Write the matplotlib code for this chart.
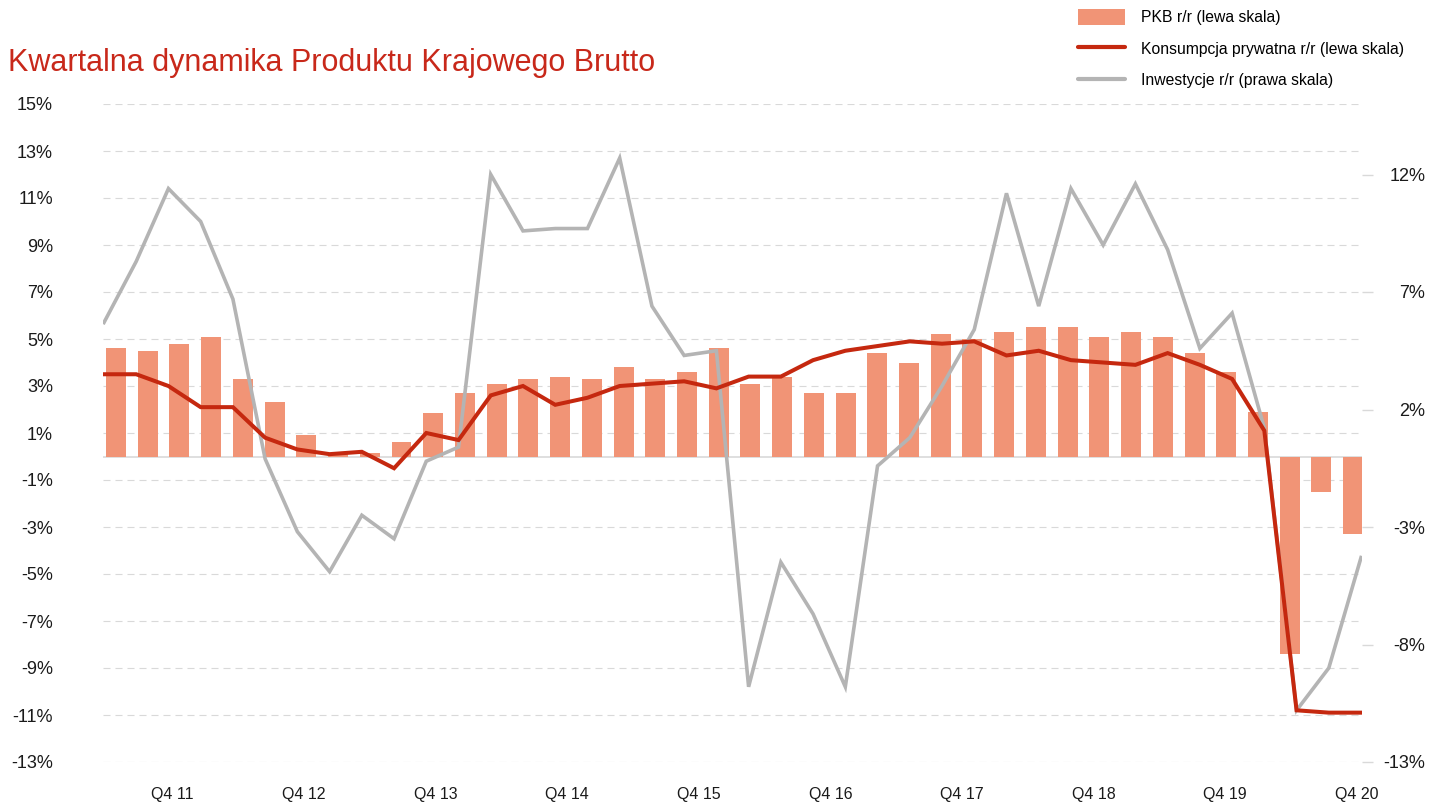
#!/usr/bin/env python3
"""Kwartalna dynamika PKB - bars (PKB) plus consumption and investment lines."""

import numpy as np
import matplotlib
matplotlib.use("Agg")
import matplotlib.pyplot as plt
from matplotlib.patches import Patch
from matplotlib.lines import Line2D

# Q1 2011 .. Q4 2020, y/y in %
pkb = [4.6, 4.5, 4.8, 5.1, 3.3, 2.3, 0.9, 0.15, 0.14, 0.6,
       1.85, 2.7, 3.1, 3.3, 3.4, 3.3, 3.8, 3.3, 3.6, 4.6,
       3.1, 3.4, 2.7, 2.7, 4.4, 4.0, 5.2, 5.0, 5.3, 5.5,
       5.5, 5.1, 5.3, 5.1, 4.4, 3.6, 1.9, -8.4, -1.5, -3.3]
konsumpcja = [3.5, 3.5, 3.0, 2.1, 2.1, 0.8, 0.3, 0.1, 0.2, -0.5,
              1.0, 0.7, 2.6, 3.0, 2.2, 2.5, 3.0, 3.1, 3.2, 2.9,
              3.4, 3.4, 4.1, 4.5, 4.7, 4.9, 4.8, 4.9, 4.3, 4.5,
              4.1, 4.0, 3.9, 4.4, 3.9, 3.3, 1.1, -10.8, -10.9, -10.9]
inwestycje = [5.7, 8.3, 11.4, 10.0, 6.7, -0.1, -3.2, -4.9, -2.5, -3.5,
              -0.2, 0.4, 12.0, 9.6, 9.7, 9.7, 12.7, 6.4, 4.3, 4.5,
              -9.8, -4.5, -6.7, -9.8, -0.4, 0.8, 3.0, 5.4, 11.2, 6.4,
              11.4, 9.0, 11.6, 8.8, 4.6, 6.1, 1.2, -10.8, -9.0, -4.3]
x_labels = ["Q4 11", "Q4 12", "Q4 13", "Q4 14", "Q4 15",
            "Q4 16", "Q4 17", "Q4 18", "Q4 19", "Q4 20"]
left_ticks = list(range(-13, 16, 2))
right_ticks = [-13, -8, -3, 2, 7, 12]

BAR = "#f19476"
RED = "#c5280f"
GREY = "#b4b4b4"
GRID = "#d9d9d9"
TXT = "#1a1a1a"

plt.rcParams["font.family"] = ["Liberation Sans", "DejaVu Sans"]

W, H = 1446, 802
fig = plt.figure(figsize=(W / 100, H / 100), dpi=100)
ax = fig.add_axes([103 / W, 40 / H, (1362 - 103) / W, (762 - 104) / H])

# bars on their own category scale
n = len(pkb)
xb = np.arange(n)
ax.bar(xb, pkb, width=0.63, color=BAR, zorder=2)
ax.set_xlim(-0.41, n - 1 + 0.28)
ax.set_ylim(-13, 15)
ax.set_yticks(left_ticks)
ax.set_yticklabels([f"{t}%" for t in left_ticks], fontsize=13, color=TXT)
ax.tick_params(axis="y", length=0, pad=36)
for t in left_ticks:
    ax.axhline(t, color=GRID, lw=0.8, ls=(0, (6.3, 4.5)), zorder=0)
ax.axhline(0, color=GRID, lw=1.2, zorder=1)

label_pos = np.arange(len(x_labels)) * 4.15 + 1.77
ax.set_xticks(label_pos)
ax.set_xticklabels(x_labels, fontsize=11.5, color=TXT)
ax.tick_params(axis="x", length=0, pad=18)
for s in ax.spines.values():
    s.set_visible(False)

# lines span the full width
axl = ax.twiny()
axl.plot(xb, inwestycje, color=GREY, lw=2.6, zorder=3, solid_joinstyle="miter")
axl.plot(xb, konsumpcja, color=RED, lw=2.9, zorder=4, solid_joinstyle="miter")
axl.set_xlim(-0.03, n - 1 + 0.03)
axl.set_xticks([])
for s in axl.spines.values():
    s.set_visible(False)

# right scale (same numbers, other ticks)
axr = ax.twinx()
axr.set_ylim(-13, 15)
axr.set_yticks(right_ticks)
axr.set_yticklabels([f"{t}%" for t in right_ticks], fontsize=13, color=TXT,
                    ha="right")
axr.tick_params(axis="y", length=8, width=1, color=GRID, pad=37.5)
for s in axr.spines.values():
    s.set_visible(False)

fig.text(8 / W, 1 - 71 / H, "Kwartalna dynamika Produktu Krajowego Brutto",
         fontsize=22, color="#c8281a", va="baseline", ha="left")

handles = [Patch(facecolor=BAR, edgecolor="none"),
           Line2D([], [], color=RED, lw=3, solid_capstyle="round"),
           Line2D([], [], color=GREY, lw=3, solid_capstyle="round")]
labels = ["PKB r/r (lewa skala)",
          "Konsumpcja prywatna r/r (lewa skala)",
          "Inwestycje r/r (prawa skala)"]
fig.legend(handles, labels, loc="upper left",
           bbox_to_anchor=(1078 / W, 1 - 9 / H), frameon=False,
           prop={"size": 11.3},
           handlelength=3.0, handleheight=1.15, handletextpad=1.0,
           labelspacing=0.98, borderaxespad=0, borderpad=0)

fig.savefig("out.png", dpi=100)
